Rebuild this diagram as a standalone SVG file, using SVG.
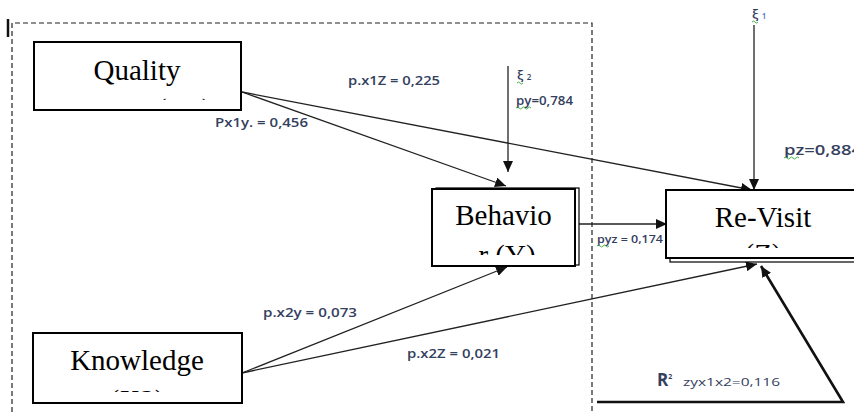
<svg xmlns="http://www.w3.org/2000/svg" width="854" height="412" viewBox="0 0 854 412">
<style>
.box{fill:#fff;stroke:#000;stroke-width:2}
.shadow{fill:#fff;stroke:#000;stroke-width:1.2}
.nt{font-family:"Liberation Serif",serif;font-size:29px;fill:#000;text-anchor:middle}
.lbl{font-family:"Open Sans","Liberation Sans",sans-serif;font-size:12px;font-weight:600;fill:#34405e}
.con{fill:none;stroke:#222;stroke-width:1.3}
.thick{fill:none;stroke:#111;stroke-width:2.6}
.wavy{fill:none;stroke:#3aa63a;stroke-width:0.9}
</style>
<defs>
<marker id="ah" markerUnits="userSpaceOnUse" markerWidth="12" markerHeight="10" refX="11" refY="5" orient="auto"><path d="M0,0 L11,5 L0,10 z" fill="#111"/></marker>
<clipPath id="cq"><rect x="30" y="40" width="215" height="60"/></clipPath>
<clipPath id="cb"><rect x="430" y="185" width="150" height="70"/></clipPath>
<clipPath id="cr"><rect x="660" y="185" width="194" height="63"/></clipPath>
<clipPath id="ck"><rect x="30" y="330" width="215" height="62"/></clipPath>
</defs>
<rect width="854" height="412" fill="#fff"/>
<g id="frame">
<path d="M12,412 L12,23 L592,23 L592,412" fill="none" stroke="#222" stroke-width="1.2" stroke-dasharray="5,3"/>
<line x1="8" y1="19" x2="8" y2="37" stroke="#111" stroke-width="2.5"/>
</g>
<g id="connectors">
<line class="con" x1="242" y1="92" x2="506" y2="186" marker-end="url(#ah)"/>
<line class="con" x1="242" y1="92" x2="752" y2="190" marker-end="url(#ah)"/>
<line class="con" x1="508" y1="66" x2="508" y2="172" marker-end="url(#ah)"/>
<line class="con" x1="754" y1="25" x2="754" y2="190" marker-end="url(#ah)"/>
<line class="con" x1="579" y1="224" x2="667" y2="224" marker-end="url(#ah)"/>
<line class="con" x1="242" y1="373" x2="507" y2="267" marker-end="url(#ah)"/>
<line class="con" x1="242" y1="373" x2="757" y2="264" marker-end="url(#ah)"/>
<polyline class="thick" points="597,402 843,402 761,266" marker-end="url(#ah)"/>
</g>
<g id="quality">
<rect class="box" x="34" y="42" width="207" height="68"/>
<text class="nt" x="137" y="80">Quality</text>
<text class="nt" x="137" y="119" clip-path="url(#cq)">Service (X1)</text>
</g>
<g id="behavior">
<rect class="shadow" x="436" y="188" width="143" height="77"/>
<rect class="box" x="432" y="189" width="143" height="77"/>
<text class="nt" x="503.5" y="225">Behavio</text>
<text class="nt" x="507" y="265" clip-path="url(#cb)">r (Y)</text>
</g>
<g id="revisit">
<rect class="shadow" x="670" y="194" width="190" height="68"/>
<rect class="box" x="666" y="190" width="192" height="68"/>
<text class="nt" x="763" y="227">Re-Visit</text>
<text class="nt" x="763" y="264" clip-path="url(#cr)">(Z)</text>
</g>
<g id="knowledge">
<rect class="box" x="33" y="333" width="209" height="70"/>
<text class="nt" x="137" y="370">Knowledge</text>
<text class="nt" x="137" y="410" clip-path="url(#ck)">(X2)</text>
</g>
<g id="labels">
<text class="lbl" x="348" y="85" textLength="92" lengthAdjust="spacingAndGlyphs">p.x1Z = 0,225</text>
<text class="lbl" x="215" y="127" textLength="93" lengthAdjust="spacingAndGlyphs">Px1y. = 0,456</text>
<text class="lbl" x="517" y="80" style="font-size:13px">ξ <tspan style="font-size:8px">2</tspan></text>
<path class="wavy" d="M517,83 q1.5,-2 3,0 t3,0"/>
<text class="lbl" x="516" y="105" textLength="57" lengthAdjust="spacingAndGlyphs">py=0,784</text>
<path class="wavy" d="M516,108 q1.5,-2 3,0 t3,0 t3,0 t3,0 t3,0"/>
<text class="lbl" x="752" y="19" style="font-size:13px">ξ <tspan style="font-size:8px;fill:#3a6fd0">1</tspan></text>
<path class="wavy" d="M752,22 q1.5,-2 3,0 t3,0"/>
<text class="lbl" x="784" y="155" style="font-size:14px" textLength="78" lengthAdjust="spacingAndGlyphs">pz=0,884</text>
<path class="wavy" d="M784,158 q1.5,-2 3,0 t3,0 t3,0 t3,0 t3,0"/>
<text class="lbl" x="597" y="243" style="font-size:10.5px" textLength="66" lengthAdjust="spacingAndGlyphs">pyz = 0,174</text>
<path class="wavy" d="M597,246 q1.5,-2 3,0 t3,0 t3,0 t3,0"/>
<text class="lbl" x="263" y="317" textLength="94" lengthAdjust="spacingAndGlyphs">p.x2y = 0,073</text>
<text class="lbl" x="407" y="358" textLength="93" lengthAdjust="spacingAndGlyphs">p.x2Z = 0,021</text>
<text class="lbl" x="657" y="386" style="font-size:17px;font-weight:bold">R<tspan style="font-size:7px" dy="-7">2</tspan></text>
<text class="lbl" x="683" y="386" style="font-size:10.5px;font-weight:normal" textLength="97" lengthAdjust="spacingAndGlyphs">zyx1x2=0,116</text>
</g>
</svg>
